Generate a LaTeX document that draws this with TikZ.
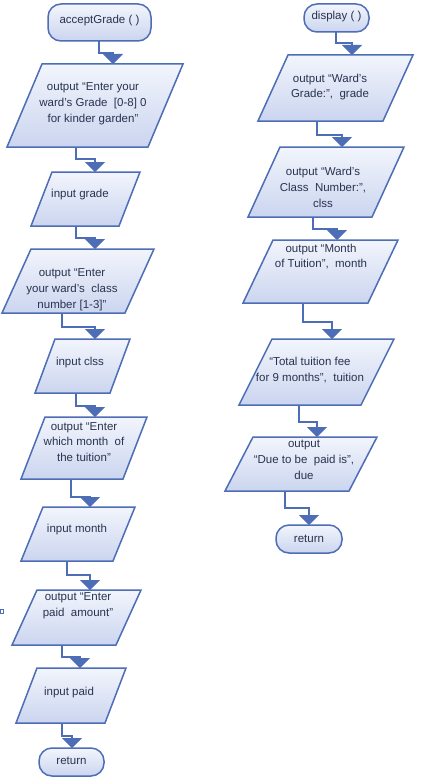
\documentclass[tikz,border=0pt]{standalone}
\usepackage{fontspec}
\setmainfont{Liberation Sans}
\usetikzlibrary{arrows.meta}
\definecolor{edge}{HTML}{4D6DB6}
\definecolor{ftop}{HTML}{F2F5FC}
\definecolor{fbot}{HTML}{CBD5EF}
\definecolor{txt}{HTML}{283350}
\tikzset{
  shapebox/.style={draw=edge, line width=1.5pt, top color=ftop, bottom color=fbot, line join=miter},
  termbox/.style={shapebox, rounded corners=13pt, inner sep=0pt},
  label/.style={text=txt, font=\fontsize{11.5}{15.8}\selectfont, align=center, inner sep=0pt},
  conn/.style={draw=edge, line width=1.5pt, -{Triangle[width=20pt,length=10pt]}},
}
% #1 name, #2 top-left x, #3 top y, #4 width, #5 bottom y, #6 slant
\newcommand\mypara[6]{%
  \path[shapebox] (#2,#3) -- ++(#4,0) -- (#2+#4-#6,#5) -- (#2-#6,#5) -- cycle;
}
\begin{document}
\begin{tikzpicture}[x=1pt,y=-1pt]
\useasboundingbox (0,0) rectangle (423,784);
\fill[white] (0,0) rectangle (423,784);

% ---------- left column ----------
\path[termbox] (48,4) rectangle (151,41);
\node[label] (t1) at (99.5,21) {acceptGrade ( )};

\mypara{p1}{42}{64}{141}{147}{35}
\node[label] (p1) at (93,103.5) {output “Enter your\\ward’s Grade~ [0-8] 0\\for kinder garden”};

\mypara{p2}{52}{172}{88}{226}{21}
\node[label] (p2) at (80,195) {input grade};

\mypara{p3}{31}{249}{123}{313}{29}
\node[label] (p3) at (72,290) {output “Enter\\your ward’s~ class\\number [1-3]”};

\mypara{p4}{55}{339}{75}{393}{20}
\node[label] (p4) at (80,363) {input clss};

\mypara{p5}{45}{417}{102}{479}{24}
\node[label] (p5) at (84,442) {output “Enter\\which month~ of\\the tuition”};

\mypara{p6}{43}{507}{92}{561}{22}
\node[label] (p6) at (77,530) {input month};

\mypara{p7}{37}{590}{104}{645}{25}
\node[label] (p7) at (78,606) {output “Enter\\paid~ amount”};

\mypara{p8}{37}{668}{89}{723}{21}
\node[label] (p8) at (69,693) {input paid};

\path[termbox] (39,748) rectangle (104,776);
\node[label] (t2) at (71.5,761) {return};

% ---------- right column ----------
\path[termbox] (304,4) rectangle (369,32);
\node[label] (t3) at (336.5,17) {display ( )};

\mypara{d1}{288}{55}{125}{121}{30}
\node[label] (d1) at (330,87) {output “Ward’s\\Grade:”,~ grade};

\mypara{d2}{280}{147}{124}{217}{32}
\node[label] (d2) at (323,187.5) {output “Ward’s\\Class~ Number:”,\\clss};

\mypara{d3}{273}{240}{125}{303}{30}
\node[label] (d3) at (321,256.5) {output “Month\\of Tuition”,~ month};

\mypara{d4}{272}{339}{122}{405}{33}
\node[label] (d4) at (310,370) {“Total tuition fee\\for 9 months”,~ tuition};

\mypara{d5}{253}{437}{124}{491}{28}
\node[label] (d5) at (304,460) {output\\“Due to be~ paid is”,\\due};

\path[termbox] (276,525) rectangle (342,553);
\node[label] (t4) at (309,539) {return};

% ---------- connection points ----------
\coordinate (t1o) at (99,41);   \coordinate (p1i) at (113,64);
\coordinate (p1o) at (76,147);  \coordinate (p2i) at (95,172);
\coordinate (p2o) at (76,226);  \coordinate (p3i) at (95,249);
\coordinate (p3o) at (62,313);  \coordinate (p4i) at (95,339);
\coordinate (p4o) at (76,393);  \coordinate (p5i) at (95,417);
\coordinate (p5o) at (71,479);  \coordinate (p6i) at (90,507);
\coordinate (p6o) at (67,561);  \coordinate (p7i) at (90,590);
\coordinate (p7o) at (62,645);  \coordinate (p8i) at (80,668);
\coordinate (p8o) at (62,723);  \coordinate (t2i) at (72,748);
\coordinate (t3o) at (336,32);  \coordinate (d1i) at (352,55);
\coordinate (d1o) at (317,121); \coordinate (d2i) at (342,147);
\coordinate (d2o) at (313,217); \coordinate (d3i) at (337,240);
\coordinate (d3o) at (303,303); \coordinate (d4i) at (332,339);
\coordinate (d4o) at (299,405); \coordinate (d5i) at (317,437);
\coordinate (d5o) at (285,491); \coordinate (t4i) at (309,525);

% ---------- connectors ----------
\draw[conn] (t1o) -- ++(0,12) -| (p1i);
\draw[conn] (p1o) -- ++(0,12) -| (p2i);
\draw[conn] (p2o) -- ++(0,12) -| (p3i);
\draw[conn] (p3o) -- ++(0,14) -| (p4i);
\draw[conn] (p4o) -- ++(0,13) -| (p5i);
\draw[conn] (p5o) -- ++(0,18) -| (p6i);
\draw[conn] (p6o) -- ++(0,14) -| (p7i);
\draw[conn] (p7o) -- ++(0,12) -| (p8i);
\draw[conn] (p8o) -- ++(0,13) -| (t2i);
\draw[conn] (t3o) -- ++(0,11) -| (d1i);
\draw[conn] (d1o) -- ++(0,14) -| (d2i);
\draw[conn] (d2o) -- ++(0,12) -| (d3i);
\draw[conn] (d3o) -- ++(0,19) -| (d4i);
\draw[conn] (d4o) -- ++(0,17) -| (d5i);
\draw[conn] (d5o) -- ++(0,17) -| (t4i);

% small stray mark at the left edge
\draw[edge, line width=0.7pt] (0.5,609) rectangle (3.5,613);
\end{tikzpicture}
\end{document}
